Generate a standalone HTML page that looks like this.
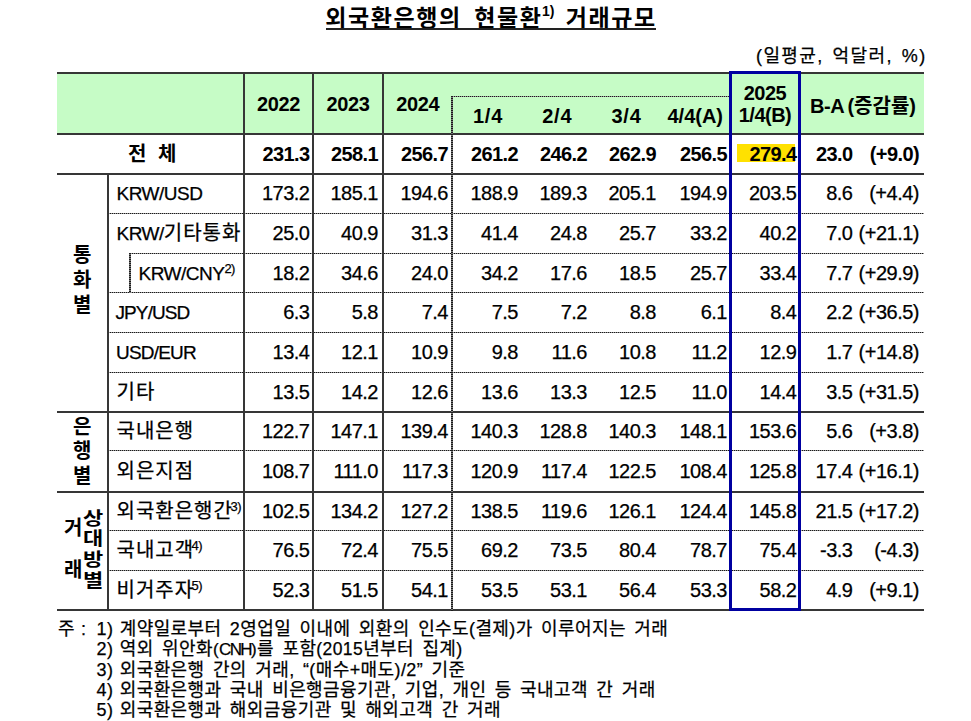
<!DOCTYPE html><html lang="ko"><head><meta charset="utf-8"><title>외국환은행의 현물환 거래규모</title><style>
html,body{margin:0;padding:0;background:#fff;}
body{width:971px;height:721px;position:relative;overflow:hidden;font-family:'Liberation Sans','Noto Sans CJK KR',sans-serif;color:#000;}
.t{position:absolute;white-space:nowrap;font-size:20px;line-height:20px;-webkit-text-stroke:0.25px #000;}
.t.b{-webkit-text-stroke:0;}
.n{text-align:right;letter-spacing:-0.5px;}
.b{font-weight:bold;}
.n.b{letter-spacing:-0.6px;}
.lt{font-size:19px;letter-spacing:-0.5px;}
.kr{letter-spacing:1px;}
.h{position:absolute;height:2px;background:#363636;}
.v{position:absolute;width:2px;background:#363636;}
.hd{position:absolute;height:1px;background:repeating-linear-gradient(90deg,#1a1a1a 0 1px,#9a9a9a 1px 2px);}
.vd{position:absolute;width:2px;background:repeating-linear-gradient(180deg,#1a1a1a 0 1px,#7a7a7a 1px 2px);}
sup{font-size:13px;line-height:0;vertical-align:0;position:relative;top:-7px;margin-left:-2.5px;letter-spacing:-0.5px;}
.lt sup{margin-left:1px}
.vl{position:absolute;font-size:20px;line-height:20px;font-weight:bold;white-space:nowrap;}

</style></head><body>
<div style="position:absolute;white-space:nowrap;font-weight:bold;font-size:23px;line-height:24px;letter-spacing:1.6px;top:5.5px;left:325.2px">외국환은행의</div>
<div style="position:absolute;white-space:nowrap;font-weight:bold;font-size:23px;line-height:24px;letter-spacing:1.6px;top:5.5px;left:474.2px">현물환</div>
<div style="position:absolute;white-space:nowrap;font-weight:bold;font-size:23px;line-height:24px;letter-spacing:1.6px;top:5.5px;left:542px;font-size:14px;top:-1.5px;letter-spacing:0">1)</div>
<div style="position:absolute;white-space:nowrap;font-weight:bold;font-size:23px;line-height:24px;letter-spacing:1.6px;top:5.5px;left:565.7px">거래규모</div>
<div class="h" style="left:326px;top:28px;width:330px;background:#222"></div>
<div class="t" style="left:756px;top:45px;font-size:18px;line-height:22px;letter-spacing:1.4px;word-spacing:2.5px">(일평균, 억달러, %)</div>
<div style="position:absolute;left:57px;top:73px;width:867px;height:61px;background:#c6fcc6"></div>
<div style="position:absolute;left:737px;top:144px;width:58px;height:18px;background:#ffe100"></div>
<div class="h" style="left:57px;top:72px;width:867px"></div>
<div class="h" style="left:57px;top:133px;width:867px"></div>
<div class="h" style="left:57px;top:173px;width:867px"></div>
<div class="hd" style="left:108px;top:213px;width:816px"></div>
<div class="hd" style="left:130px;top:253px;width:794px"></div>
<div class="hd" style="left:108px;top:292px;width:816px"></div>
<div class="hd" style="left:108px;top:332px;width:816px"></div>
<div class="hd" style="left:108px;top:372px;width:816px"></div>
<div class="h" style="left:57px;top:411px;width:867px"></div>
<div class="hd" style="left:108px;top:450px;width:816px"></div>
<div class="h" style="left:57px;top:491px;width:867px"></div>
<div class="hd" style="left:108px;top:530px;width:816px"></div>
<div class="hd" style="left:108px;top:570px;width:816px"></div>
<div class="h" style="left:57px;top:609px;width:867px"></div>
<div class="hd" style="left:452px;top:96px;width:278px"></div>
<div class="v" style="left:107px;top:173px;height:438px"></div>
<div class="vd" style="left:129px;top:253px;height:40px"></div>
<div class="v" style="left:243px;top:72px;height:539px"></div>
<div class="v" style="left:312px;top:72px;height:539px"></div>
<div class="v" style="left:382px;top:72px;height:539px"></div>
<div class="vd" style="left:451px;top:96px;height:515px"></div>
<div style="position:absolute;left:729px;top:71px;width:66px;height:534px;border:3px solid #0000a0;"></div>
<div class="t b" style="left:244px;width:69px;top:94px;text-align:center;letter-spacing:-0.4px">2022</div>
<div class="t b" style="left:313px;width:70px;top:94px;text-align:center;letter-spacing:-0.4px">2023</div>
<div class="t b" style="left:383px;width:69.5px;top:94px;text-align:center;letter-spacing:-0.4px">2024</div>
<div class="t b" style="left:452.5px;width:69.5px;top:106px;text-align:center;letter-spacing:0.8px;padding-left:0.8px">1/4</div>
<div class="t b" style="left:522px;width:69px;top:106px;text-align:center;letter-spacing:0.8px;padding-left:0.8px">2/4</div>
<div class="t b" style="left:591px;width:69.5px;top:106px;text-align:center;letter-spacing:0.8px;padding-left:0.8px">3/4</div>
<div class="t b" style="left:660.5px;width:69.5px;top:106px;text-align:center;letter-spacing:0">4/4(A)</div>
<div class="t b" style="left:730px;width:70px;top:83.3px;text-align:center;line-height:21.4px;letter-spacing:-0.5px">2025<br>1/4(B)</div>
<div class="t b" style="left:810px;top:95.5px"><span style="letter-spacing:-0.4px;margin-right:-2.5px">B-A</span> (증감률)</div>
<div class="t b" style="left:128px;top:143.5px;word-spacing:6px">전 체</div>
<div class="t n b" style="right:661.5px;top:143.5px">231.3</div>
<div class="t n b" style="right:593px;top:143.5px">258.1</div>
<div class="t n b" style="right:523px;top:143.5px">256.7</div>
<div class="t n b" style="right:453px;top:143.5px">261.2</div>
<div class="t n b" style="right:384px;top:143.5px">246.2</div>
<div class="t n b" style="right:315px;top:143.5px">262.9</div>
<div class="t n b" style="right:244px;top:143.5px">256.5</div>
<div class="t n b" style="right:174.5px;top:143.5px">279.4</div>
<div class="t n b" style="right:118.5px;top:143.5px">23.0</div>
<div class="t n b" style="right:52px;top:143.5px">(+9.0)</div>
<div class="t kr" style="left:116.5px;top:183.0px"><span class="lt" style="">KRW/USD</span></div>
<div class="t n" style="right:661.5px;top:183.0px">173.2</div>
<div class="t n" style="right:593px;top:183.0px">185.1</div>
<div class="t n" style="right:523px;top:183.0px">194.6</div>
<div class="t n" style="right:453px;top:183.0px">188.9</div>
<div class="t n" style="right:384px;top:183.0px">189.3</div>
<div class="t n" style="right:315px;top:183.0px">205.1</div>
<div class="t n" style="right:244px;top:183.0px">194.9</div>
<div class="t n" style="right:174.5px;top:183.0px">203.5</div>
<div class="t n" style="right:118.5px;top:183.0px">8.6</div>
<div class="t n" style="right:52px;top:183.0px">(+4.4)</div>
<div class="t kr" style="left:116.5px;top:223.0px"><span class="lt" style="">KRW/</span>기타통화</div>
<div class="t n" style="right:661.5px;top:223.0px">25.0</div>
<div class="t n" style="right:593px;top:223.0px">40.9</div>
<div class="t n" style="right:523px;top:223.0px">31.3</div>
<div class="t n" style="right:453px;top:223.0px">41.4</div>
<div class="t n" style="right:384px;top:223.0px">24.8</div>
<div class="t n" style="right:315px;top:223.0px">25.7</div>
<div class="t n" style="right:244px;top:223.0px">33.2</div>
<div class="t n" style="right:174.5px;top:223.0px">40.2</div>
<div class="t n" style="right:118.5px;top:223.0px">7.0</div>
<div class="t n" style="right:52px;top:223.0px">(+21.1)</div>
<div class="t kr" style="left:138.5px;top:262.5px"><span class="lt" style="">KRW/CNY</span><sup style="margin-left:0">2)</sup></div>
<div class="t n" style="right:661.5px;top:262.5px">18.2</div>
<div class="t n" style="right:593px;top:262.5px">34.6</div>
<div class="t n" style="right:523px;top:262.5px">24.0</div>
<div class="t n" style="right:453px;top:262.5px">34.2</div>
<div class="t n" style="right:384px;top:262.5px">17.6</div>
<div class="t n" style="right:315px;top:262.5px">18.5</div>
<div class="t n" style="right:244px;top:262.5px">25.7</div>
<div class="t n" style="right:174.5px;top:262.5px">33.4</div>
<div class="t n" style="right:118.5px;top:262.5px">7.7</div>
<div class="t n" style="right:52px;top:262.5px">(+29.9)</div>
<div class="t kr" style="left:116.5px;top:302.0px"><span class="lt" style="letter-spacing:-0.9px;margin-left:-1px">JPY/USD</span></div>
<div class="t n" style="right:661.5px;top:302.0px">6.3</div>
<div class="t n" style="right:593px;top:302.0px">5.8</div>
<div class="t n" style="right:523px;top:302.0px">7.4</div>
<div class="t n" style="right:453px;top:302.0px">7.5</div>
<div class="t n" style="right:384px;top:302.0px">7.2</div>
<div class="t n" style="right:315px;top:302.0px">8.8</div>
<div class="t n" style="right:244px;top:302.0px">6.1</div>
<div class="t n" style="right:174.5px;top:302.0px">8.4</div>
<div class="t n" style="right:118.5px;top:302.0px">2.2</div>
<div class="t n" style="right:52px;top:302.0px">(+36.5)</div>
<div class="t kr" style="left:116.5px;top:342.0px"><span class="lt" style="letter-spacing:-0.8px;margin-left:-0.5px">USD/EUR</span></div>
<div class="t n" style="right:661.5px;top:342.0px">13.4</div>
<div class="t n" style="right:593px;top:342.0px">12.1</div>
<div class="t n" style="right:523px;top:342.0px">10.9</div>
<div class="t n" style="right:453px;top:342.0px">9.8</div>
<div class="t n" style="right:384px;top:342.0px">11.6</div>
<div class="t n" style="right:315px;top:342.0px">10.8</div>
<div class="t n" style="right:244px;top:342.0px">11.2</div>
<div class="t n" style="right:174.5px;top:342.0px">12.9</div>
<div class="t n" style="right:118.5px;top:342.0px">1.7</div>
<div class="t n" style="right:52px;top:342.0px">(+14.8)</div>
<div class="t kr" style="left:116.5px;top:381.5px">기타</div>
<div class="t n" style="right:661.5px;top:381.5px">13.5</div>
<div class="t n" style="right:593px;top:381.5px">14.2</div>
<div class="t n" style="right:523px;top:381.5px">12.6</div>
<div class="t n" style="right:453px;top:381.5px">13.6</div>
<div class="t n" style="right:384px;top:381.5px">13.3</div>
<div class="t n" style="right:315px;top:381.5px">12.5</div>
<div class="t n" style="right:244px;top:381.5px">11.0</div>
<div class="t n" style="right:174.5px;top:381.5px">14.4</div>
<div class="t n" style="right:118.5px;top:381.5px">3.5</div>
<div class="t n" style="right:52px;top:381.5px">(+31.5)</div>
<div class="t kr" style="left:116.5px;top:420.5px">국내은행</div>
<div class="t n" style="right:661.5px;top:420.5px">122.7</div>
<div class="t n" style="right:593px;top:420.5px">147.1</div>
<div class="t n" style="right:523px;top:420.5px">139.4</div>
<div class="t n" style="right:453px;top:420.5px">140.3</div>
<div class="t n" style="right:384px;top:420.5px">128.8</div>
<div class="t n" style="right:315px;top:420.5px">140.3</div>
<div class="t n" style="right:244px;top:420.5px">148.1</div>
<div class="t n" style="right:174.5px;top:420.5px">153.6</div>
<div class="t n" style="right:118.5px;top:420.5px">5.6</div>
<div class="t n" style="right:52px;top:420.5px">(+3.8)</div>
<div class="t kr" style="left:116.5px;top:460.5px">외은지점</div>
<div class="t n" style="right:661.5px;top:460.5px">108.7</div>
<div class="t n" style="right:593px;top:460.5px">111.0</div>
<div class="t n" style="right:523px;top:460.5px">117.3</div>
<div class="t n" style="right:453px;top:460.5px">120.9</div>
<div class="t n" style="right:384px;top:460.5px">117.4</div>
<div class="t n" style="right:315px;top:460.5px">122.5</div>
<div class="t n" style="right:244px;top:460.5px">108.4</div>
<div class="t n" style="right:174.5px;top:460.5px">125.8</div>
<div class="t n" style="right:118.5px;top:460.5px">17.4</div>
<div class="t n" style="right:52px;top:460.5px">(+16.1)</div>
<div class="t kr" style="left:116.5px;top:500.5px">외국환은행간<sup>3)</sup></div>
<div class="t n" style="right:661.5px;top:500.5px">102.5</div>
<div class="t n" style="right:593px;top:500.5px">134.2</div>
<div class="t n" style="right:523px;top:500.5px">127.2</div>
<div class="t n" style="right:453px;top:500.5px">138.5</div>
<div class="t n" style="right:384px;top:500.5px">119.6</div>
<div class="t n" style="right:315px;top:500.5px">126.1</div>
<div class="t n" style="right:244px;top:500.5px">124.4</div>
<div class="t n" style="right:174.5px;top:500.5px">145.8</div>
<div class="t n" style="right:118.5px;top:500.5px">21.5</div>
<div class="t n" style="right:52px;top:500.5px">(+17.2)</div>
<div class="t kr" style="left:116.5px;top:540.0px">국내고객<sup>4)</sup></div>
<div class="t n" style="right:661.5px;top:540.0px">76.5</div>
<div class="t n" style="right:593px;top:540.0px">72.4</div>
<div class="t n" style="right:523px;top:540.0px">75.5</div>
<div class="t n" style="right:453px;top:540.0px">69.2</div>
<div class="t n" style="right:384px;top:540.0px">73.5</div>
<div class="t n" style="right:315px;top:540.0px">80.4</div>
<div class="t n" style="right:244px;top:540.0px">78.7</div>
<div class="t n" style="right:174.5px;top:540.0px">75.4</div>
<div class="t n" style="right:118.5px;top:540.0px">-3.3</div>
<div class="t n" style="right:52px;top:540.0px">(-4.3)</div>
<div class="t kr" style="left:116.5px;top:579.5px">비거주자<sup>5)</sup></div>
<div class="t n" style="right:661.5px;top:579.5px">52.3</div>
<div class="t n" style="right:593px;top:579.5px">51.5</div>
<div class="t n" style="right:523px;top:579.5px">54.1</div>
<div class="t n" style="right:453px;top:579.5px">53.5</div>
<div class="t n" style="right:384px;top:579.5px">53.1</div>
<div class="t n" style="right:315px;top:579.5px">56.4</div>
<div class="t n" style="right:244px;top:579.5px">53.3</div>
<div class="t n" style="right:174.5px;top:579.5px">58.2</div>
<div class="t n" style="right:118.5px;top:579.5px">4.9</div>
<div class="t n" style="right:52px;top:579.5px">(+9.1)</div>
<div class="vl" style="left:73px;top:244.5px;">통</div>
<div class="vl" style="left:73px;top:269.8px;">화</div>
<div class="vl" style="left:73px;top:295.1px;">별</div>
<div class="vl" style="left:73px;top:416.5px;">은</div>
<div class="vl" style="left:73px;top:441.3px;">행</div>
<div class="vl" style="left:73px;top:466.1px;">별</div>
<div class="vl" style="left:64px;top:518.0px;">거</div>
<div class="vl" style="left:64px;top:560.0px;">래</div>
<div class="vl" style="left:83px;top:509.5px;transform:scale(1.1,0.9);transform-origin:0 0">상</div>
<div class="vl" style="left:83px;top:530.3px;transform:scale(1.1,0.9);transform-origin:0 0">대</div>
<div class="vl" style="left:83px;top:551.1px;transform:scale(1.1,0.9);transform-origin:0 0">방</div>
<div class="vl" style="left:83px;top:571.9px;transform:scale(1.1,0.9);transform-origin:0 0">별</div>
<div class="t" style="left:58px;top:619px;font-size:18px;line-height:20px">주</div>
<div class="t" style="left:81px;top:619px;font-size:18px;line-height:20px">:</div>
<div class="t" style="left:96.5px;top:619.0px;font-size:18px;line-height:20px;letter-spacing:0.4px;word-spacing:3px"><span style="margin-right:-2px">1)</span> 계약일로부터 2영업일 이내에 외환의 인수도(결제)가 이루어지는 거래</div>
<div class="t" style="left:96.5px;top:639.3px;font-size:18px;line-height:20px;letter-spacing:0.4px;word-spacing:3px"><span style="margin-right:-2px">2)</span> 역외 위안화<span style="font-size:17px">(<span style="letter-spacing:-1.6px">CNH</span>)</span>를 포함<span style="font-size:17.5px">(2015</span>년부터 집계)</div>
<div class="t" style="left:96.5px;top:659.6px;font-size:18px;line-height:20px;letter-spacing:0.4px;word-spacing:3px"><span style="margin-right:-2px">3)</span> 외국환은행 간의 거래, “(매수+매도)/2” 기준</div>
<div class="t" style="left:96.5px;top:679.9px;font-size:18px;line-height:20px;letter-spacing:0.4px;word-spacing:3px"><span style="margin-right:-2px">4)</span> 외국환은행과 국내 비은행금융기관, 기업, 개인 등 국내고객 간 거래</div>
<div class="t" style="left:96.5px;top:700.2px;font-size:18px;line-height:20px;letter-spacing:0.4px;word-spacing:3px"><span style="margin-right:-2px">5)</span> 외국환은행과 해외금융기관 및 해외고객 간 거래</div>
</body></html>
